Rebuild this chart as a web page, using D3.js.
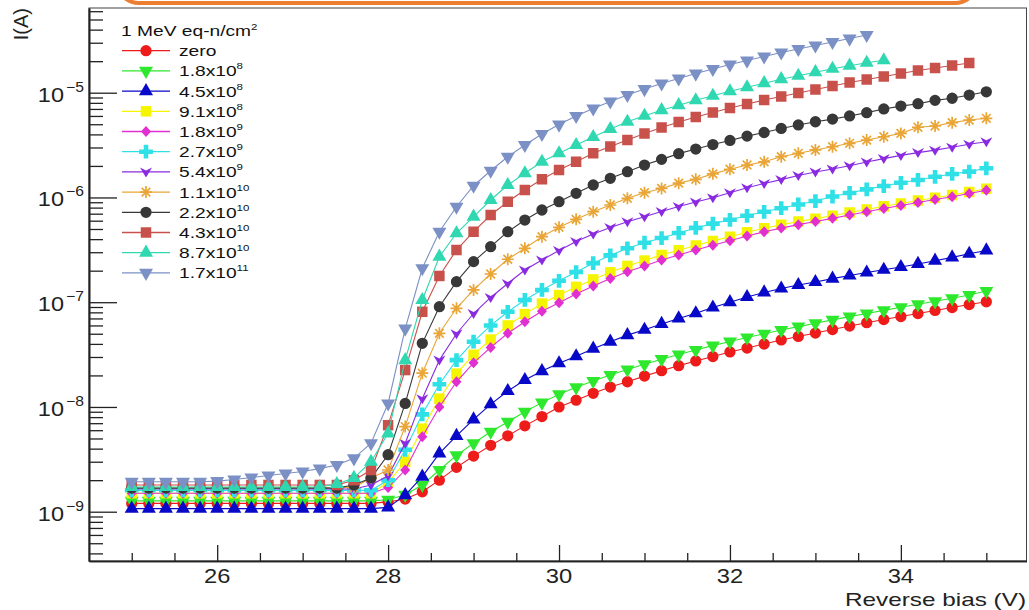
<!DOCTYPE html>
<html>
<head>
<meta charset="utf-8">
<script src="https://cdn.jsdelivr.net/npm/d3@7"></script>
<style>
  body { margin: 0; background: #fff; }
  svg { display: block; font-family: "Liberation Sans", Arial, sans-serif; }
</style>
</head>
<body>
<svg id="chart" width="1029" height="610"></svg>
<script>
// Reverse bias points (V)
const bias = [25.0, 25.2, 25.4, 25.6, 25.8, 26.0, 26.2, 26.4, 26.6, 26.8, 27.0, 27.2, 27.4, 27.6, 27.8,
  28.0, 28.2, 28.4, 28.6, 28.8, 29.0, 29.2, 29.4, 29.6, 29.8, 30.0, 30.2, 30.4, 30.6, 30.8,
  31.0, 31.2, 31.4, 31.6, 31.8, 32.0, 32.2, 32.4, 32.6, 32.8, 33.0, 33.2, 33.4, 33.6, 33.8,
  34.0, 34.2, 34.4, 34.6, 34.8, 35.0];

// Leakage current in nA, one list per fluence
const iZero = [1.2, 1.2, 1.2, 1.2, 1.2, 1.2, 1.2, 1.2, 1.2, 1.2, 1.2, 1.2, 1.2, 1.2, 1.2,
  1.24, 1.32, 1.55, 2.0, 2.65, 3.4, 4.3, 5.3, 6.6, 8.1, 10.0, 11.6, 13.5, 15.5, 17.4,
  19.7, 22.2, 24.8, 27.5, 30.3, 33.5, 36.5, 39.9, 43.6, 47.1, 50.8, 54.9, 59.3, 63.7, 68.4,
  73.0, 78.0, 83.4, 89.0, 95.1, 101];
const i18e8 = [1.27, 1.27, 1.27, 1.27, 1.27, 1.27, 1.27, 1.27, 1.27, 1.27, 1.27, 1.27, 1.27, 1.27, 1.27,
  1.3, 1.45, 1.8, 2.5, 3.45, 4.5, 5.8, 7.2, 9.0, 11.0, 13.2, 15.4, 17.7, 20.2, 22.8,
  25.6, 28.6, 31.7, 35.0, 38.5, 42.2, 46.0, 50.0, 54.2, 58.5, 63.0, 67.8, 72.8, 78.0, 83.5,
  89.5, 95.5, 102, 109, 117, 128];
const i45e8 = [1.07, 1.07, 1.07, 1.07, 1.07, 1.07, 1.07, 1.07, 1.07, 1.07, 1.07, 1.07, 1.07, 1.07, 1.07,
  1.1, 1.44, 2.16, 3.6, 5.3, 7.6, 10.6, 14.2, 18.1, 22.0, 26.1, 30.5, 36.0, 42.0, 48.5,
  54.5, 62, 70, 78.5, 89, 100, 112, 124, 135, 146, 156, 168, 180, 192, 204,
  217, 232, 249, 268, 290, 312];
const i91e8 = [1.5, 1.5, 1.5, 1.5, 1.5, 1.5, 1.5, 1.5, 1.5, 1.5, 1.5, 1.5, 1.5, 1.5, 1.5,
  1.9, 3.0, 6.2, 12, 20.8, 31.5, 44, 60, 77, 97, 117, 140, 165, 193, 222,
  250, 283, 313, 348, 385, 422, 465, 508, 548, 588, 628, 670, 718, 768, 823,
  875, 935, 995, 1055, 1130, 1210];
const i18e9 = [1.5, 1.5, 1.5, 1.5, 1.5, 1.5, 1.5, 1.5, 1.5, 1.5, 1.5, 1.5, 1.5, 1.5, 1.5,
  1.7, 2.5, 5.2, 10, 17.4, 26.4, 37, 50.5, 65, 82, 99, 120, 143, 168, 195,
  222, 253, 282, 315, 350, 386, 428, 470, 510, 550, 590, 632, 680, 730, 785,
  838, 895, 955, 1016, 1090, 1170];
const i27e9 = [1.6, 1.6, 1.6, 1.6, 1.6, 1.6, 1.6, 1.6, 1.6, 1.6, 1.6, 1.6, 1.6, 1.6, 1.6,
  2.0, 3.9, 8.5, 16.5, 28, 42, 60, 81, 105, 131, 160, 194, 236, 280, 327,
  370, 410, 458, 512, 563, 612, 668, 730, 790, 858, 925, 1020, 1105, 1195, 1285,
  1380, 1470, 1575, 1675, 1765, 1900];
const i54e9 = [1.65, 1.65, 1.65, 1.65, 1.65, 1.65, 1.65, 1.65, 1.65, 1.65, 1.65, 1.65, 1.65, 1.65, 1.8,
  2.2, 4.5, 12, 28, 50, 78, 111, 151, 203, 253, 312, 380, 448, 516, 586,
  655, 735, 820, 905, 995, 1110, 1240, 1360, 1480, 1620, 1750, 1870, 2010, 2180, 2350,
  2520, 2680, 2830, 3010, 3220, 3400];
const i11e10 = [1.7, 1.7, 1.7, 1.7, 1.7, 1.7, 1.7, 1.7, 1.7, 1.7, 1.7, 1.7, 1.7, 1.7, 2.1,
  2.5, 6.5, 21, 50.5, 87.5, 131, 186, 257, 327, 422, 519, 618, 731, 847, 982,
  1110, 1220, 1370, 1490, 1680, 1860, 2040, 2190, 2450, 2640, 2840, 3050, 3290, 3530, 3800,
  4090, 4680, 4810, 5180, 5480, 5700];
const i22e10 = [1.68, 1.68, 1.68, 1.68, 1.68, 1.68, 1.68, 1.68, 1.68, 1.68, 1.68, 1.68, 1.68, 1.8, 2.1,
  3.5, 10.8, 40.5, 90.6, 157, 244, 339, 471, 609, 759, 911, 1096, 1315, 1524, 1762,
  2040, 2310, 2620, 2900, 3200, 3500, 3850, 4170, 4560, 4920, 5280, 5600, 6000, 6450, 7000,
  7450, 7850, 8450, 8850, 9500, 10200];
const i43e10 = [1.8, 1.8, 1.8, 1.8, 1.8, 1.8, 1.8, 1.8, 1.8, 1.8, 1.8, 1.8, 1.8, 2.0, 2.5,
  6.7, 22.5, 81, 178, 315, 471, 680, 911, 1178, 1489, 1828, 2194, 2642, 3062, 3532,
  4074, 4656, 5248, 5861, 6471, 7145, 7798, 8511, 9204, 9931, 10740, 11590, 12510, 13370, 14290,
  15240, 16290, 17220, 18200, 19230];
const i87e10 = [1.72, 1.72, 1.72, 1.72, 1.72, 1.72, 1.72, 1.72, 1.72, 1.72, 1.72, 1.72, 1.84, 2.1, 3.0,
  5.6, 28, 105, 272, 455, 655, 946, 1315, 1702, 2194, 2642, 3170, 3776, 4498, 5284,
  6026, 6808, 7603, 8472, 9354, 10330, 11270, 12330, 13460, 14520, 15700, 16940, 18110, 19320, 20420];
const i17e11 = [1.93, 1.93, 1.93, 1.93, 1.93, 1.96, 2.03, 2.12, 2.22, 2.32, 2.42, 2.58, 2.79, 3.23, 4.5,
  10.8, 56, 211, 471, 816, 1294, 1800, 2449, 3170, 4036, 4966, 6000, 7063, 8241, 9506,
  10840, 12240, 13670, 15240, 16830, 18580, 20280, 22180, 24210, 26120, 28250, 30480, 32890, 35560];

// Legend labels: mantissa and power of ten
const legendMantissa = ["zero", "1.8", "4.5", "9.1", "1.8", "2.7", "5.4", "1.1", "2.2", "4.3", "8.7", "1.7"];
const legendExponent = [null, 8, 8, 8, 9, 9, 9, 10, 10, 10, 10, 11];

// Axis tick labels
const xTickLabels = [26, 28, 30, 32, 34];
const yTickExponents = [-9, -8, -7, -6, -5];

const seriesValues = [iZero, i18e8, i45e8, i91e8, i18e9, i27e9, i54e9, i11e10, i22e10, i43e10, i87e10, i17e11];
const colors = ["#ee1b1b", "#2de82d", "#0808c8", "#f5f500", "#e22fd2", "#2fe0e6",
  "#8a2be2", "#e9a535", "#383838", "#c9514b", "#2fd8b0", "#7b90c4"];
const markers = ["circle", "triDown", "triUp", "square", "diamond", "cross",
  "notch", "star", "circle", "square", "triUp", "triDown"];

const series = seriesValues.map((vals, k) => ({
  points: vals.map((v, j) => ({ v: bias[j], i: v * 1e-9 })),
  color: colors[k],
  marker: markers[k]
}));

// Plot frame in page pixels
const frame = { left: 89, right: 1026.5, top: 8, bottom: 561 };

const svg = d3.select("#chart");

const xScale = d3.scaleLinear()
  .domain([24.5, 35.47])
  .range([frame.left, frame.right]);

const yScale = d3.scaleLog()
  .domain([3.384e-10, 6.437e-5])
  .range([frame.bottom, frame.top]);

// orange rounded box peeking in at the top
svg.append("rect")
  .attr("x", 117).attr("y", -40)
  .attr("width", 860).attr("height", 43)
  .attr("rx", 22)
  .attr("fill", "none")
  .attr("stroke", "#ed7d31")
  .attr("stroke-width", 4);

// frame
svg.append("rect")
  .attr("x", frame.left).attr("y", frame.top)
  .attr("width", frame.right - frame.left)
  .attr("height", frame.bottom - frame.top)
  .attr("fill", "none")
  .attr("stroke", "#444")
  .attr("stroke-width", 1);

// helper for the wide-looking text of the original
function place(sel, x, y, sx) {
  return sel.attr("transform", `translate(${x},${y}) scale(${sx},1)`);
}

// ---- X axis (ticks point inward) ----
const xMinor = xScale.ticks(22).filter(v => v >= 25 && v <= 35.4 && !xTickLabels.includes(v));
const xAxisMinor = svg.append("g")
  .attr("transform", `translate(0,${frame.bottom})`)
  .call(d3.axisBottom(xScale).tickValues(xMinor).tickSize(-8).tickSizeOuter(0).tickFormat(""));
const xAxisMajor = svg.append("g")
  .attr("transform", `translate(0,${frame.bottom})`)
  .call(d3.axisBottom(xScale).tickValues(xTickLabels).tickSize(-16).tickSizeOuter(0).tickFormat(""));
[xAxisMinor, xAxisMajor].forEach(g => {
  g.selectAll("line").attr("stroke", "#222").attr("stroke-width", 1.3);
  g.select(".domain").attr("stroke", "#222").attr("stroke-width", 1.6);
});

svg.append("g").selectAll("text")
  .data(xTickLabels)
  .enter()
  .append("text")
  .attr("text-anchor", "middle")
  .attr("font-size", 21)
  .attr("fill", "#222")
  .each(function(d) { place(d3.select(this), xScale(d), 583, 1.13); })
  .text(d => d);

place(svg.append("text"), 1026, 606, 1.28)
  .attr("text-anchor", "end")
  .attr("font-size", 19)
  .attr("fill", "#222")
  .text("Reverse bias (V)");

// ---- Y axis (log) ----
const yAll = yScale.ticks();
const yMajorVals = yTickExponents.map(e => Math.pow(10, e));
const yMinor = yAll.filter(v => !yMajorVals.some(m => Math.abs(m - v) / m < 1e-6));
const yAxisMinor = svg.append("g")
  .attr("transform", `translate(${frame.left},0)`)
  .call(d3.axisLeft(yScale).tickValues(yMinor).tickSize(-14).tickSizeOuter(0).tickFormat(""));
const yAxisMajor = svg.append("g")
  .attr("transform", `translate(${frame.left},0)`)
  .call(d3.axisLeft(yScale).tickValues(yMajorVals).tickSize(-28).tickSizeOuter(0).tickFormat(""));
[yAxisMinor, yAxisMajor].forEach(g => {
  g.selectAll("line").attr("stroke", "#222").attr("stroke-width", 1.3);
  g.select(".domain").attr("stroke", "#222").attr("stroke-width", 1.6);
});

const yLabels = svg.append("g").selectAll("g")
  .data(yTickExponents)
  .enter()
  .append("g");
yLabels.append("text")
  .attr("text-anchor", "end")
  .attr("font-size", 21)
  .attr("fill", "#222")
  .each(function(d) { place(d3.select(this), 64, yScale(Math.pow(10, d)) + 9, 1.12); })
  .text("10");
yLabels.append("text")
  .attr("text-anchor", "start")
  .attr("font-size", 14)
  .attr("fill", "#222")
  .each(function(d) { place(d3.select(this), 66, yScale(Math.pow(10, d)) - 1, 1.12); })
  .text(d => "\u2212" + Math.abs(d));

svg.append("text")
  .attr("transform", "translate(28,8) rotate(-90)")
  .attr("text-anchor", "end")
  .attr("font-size", 20)
  .attr("fill", "#222")
  .text("I(A)");

// ---- markers ----
const markerPath = {
  circle: d3.symbol(d3.symbolCircle, 100)(),
  triUp: d3.symbol(d3.symbolTriangle, 85)(),
  triDown: d3.symbol(d3.symbolTriangle, 85)(),
  square: d3.symbol(d3.symbolSquare, 110)(),
  cross: d3.symbol(d3.symbolCross, 105)(),
  diamond: "M0,-5.5L5,0L0,5.5L-5,0Z",
  notch: "M-6,-4.5L0,-1.5L6,-4.5L0,5.5Z",
  star: "M-6,0H6M0,-6V6M-4.3,-4.3L4.3,4.3M-4.3,4.3L4.3,-4.3"
};

function addMarker(g, kind, color, x, y) {
  const p = g.append("path")
    .attr("d", markerPath[kind])
    .attr("transform", `translate(${x},${y})` + (kind === "triDown" ? " rotate(180)" : ""));
  if (kind === "star") {
    p.attr("fill", "none").attr("stroke", color).attr("stroke-width", 1.7);
  } else {
    p.attr("fill", color);
  }
  return p;
}

svg.append("clipPath").attr("id", "plot-clip")
  .append("rect")
  .attr("x", frame.left).attr("y", frame.top)
  .attr("width", frame.right - frame.left)
  .attr("height", frame.bottom - frame.top);

const plot = svg.append("g").attr("clip-path", "url(#plot-clip)");

const line = d3.line()
  .x(d => xScale(d.v))
  .y(d => yScale(d.i));

series.forEach(s => {
  const g = plot.append("g");
  g.append("path")
    .datum(s.points)
    .attr("d", line)
    .attr("fill", "none")
    .attr("stroke", s.color)
    .attr("stroke-width", 1.1);
  s.points.forEach(p => addMarker(g, s.marker, s.color, xScale(p.v), yScale(p.i)));
});

// ---- legend ----
const legend = svg.append("g");
place(legend.append("text"), 121, 36, 1.28)
  .attr("font-size", 15)
  .attr("fill", "#111")
  .call(t => {
    t.append("tspan").text("1 MeV eq-n/cm");
    t.append("tspan").attr("font-size", 9).attr("dy", -6).text("2");
  });

series.forEach((s, k) => {
  const cy = 50.7 + k * 20.2;
  const row = legend.append("g");
  row.append("line")
    .attr("x1", 122).attr("x2", 170)
    .attr("y1", cy).attr("y2", cy)
    .attr("stroke", s.color)
    .attr("stroke-width", 1.3);
  addMarker(row, s.marker, s.color, 146, cy);
  const t = place(row.append("text"), 179, cy + 5.5, 1.28)
    .attr("font-size", 15)
    .attr("fill", "#111");
  if (legendExponent[k] === null) {
    t.text(legendMantissa[k]);
  } else {
    t.append("tspan").text(legendMantissa[k] + "x10");
    t.append("tspan").attr("font-size", 9).attr("dy", -7).text(legendExponent[k]);
  }
});
</script>
</body>
</html>
